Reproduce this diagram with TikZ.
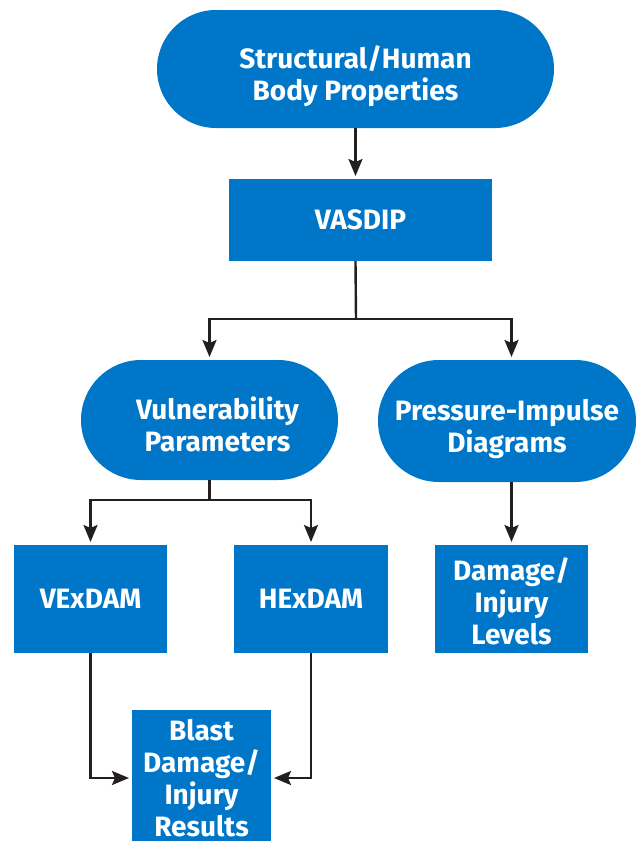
\documentclass[tikz,border=0pt]{standalone}
\usepackage{fontspec}
\setmainfont{Fira Sans}
\usetikzlibrary{arrows.meta,calc}
\definecolor{boxblue}{RGB}{0,118,200}
\definecolor{linegray}{RGB}{35,31,32}
\newcommand{\tpad}[1]{\rule{0pt}{#1}}
\begin{document}
\begin{tikzpicture}[x=1pt,y=-1pt,
  every node/.style={inner sep=0pt,outer sep=0pt},
  blk/.style={fill=boxblue,text=white,align=center,
    font=\fontsize{28}{32}\selectfont\bfseries},
  pill/.style={blk,rounded corners=#1},
  conn/.style={draw=linegray,line width=2.4pt},
  arr/.style={conn,-{Stealth[length=17pt,width=14pt,inset=3pt]},shorten >=3pt}]
\useasboundingbox (0,0) rectangle (639,841);
\node[pill=59pt,minimum width=397pt,minimum height=118pt] (top) at (355.5,69)
  {\tpad{38pt}Structural/Human\\Body Properties};
\node[blk,minimum width=263pt,minimum height=82pt] (vasdip) at (360.5,220) {VASDIP};
\node[pill=60pt,minimum width=257pt,minimum height=120pt] (vul) at (209.5,420)
  {\tpad{32pt}\hspace*{16pt}Vulnerability\\\hspace*{16pt}Parameters};
\node[pill=61pt,minimum width=258pt,minimum height=122pt] (pi) at (507,421)
  {\tpad{38pt}Pressure-Impulse\\Diagrams};
\node[blk,minimum width=153pt,minimum height=108pt] (vex) at (90.5,599) {VExDAM};
\node[blk,minimum width=154pt,minimum height=108pt] (hex) at (311,599) {HExDAM};
\node[blk,minimum width=153pt,minimum height=108pt] (dil) at (511.5,599)
  {\tpad{27pt}Damage/\\Injury\\Levels};
\node[blk,minimum width=139pt,minimum height=136pt] (blast) at (201.5,778)
  {Blast\\Damage/\\Injury\\Results};
\coordinate (split) at (356,319);
\coordinate (vsplit) at (209.5,500);
\draw[arr] (top.south) -- (top.south |- vasdip.north);
\draw[conn] (top.south |- vasdip.south) -- (split);
\draw[arr] (split) -| (vul.north);
\draw[arr] (split) -| (dil.north |- pi.north);
\draw[conn] (vul.south) -- (vsplit);
\draw[arr] (vsplit) -| (vex.north);
\draw[arr] (vsplit) -| (hex.north);
\draw[arr] (dil.north |- pi.south) -- (dil.north);
\draw[arr] (vex.south) |- (blast.west);
\draw[arr] (hex.south) |- (blast.east);
\end{tikzpicture}
\end{document}
